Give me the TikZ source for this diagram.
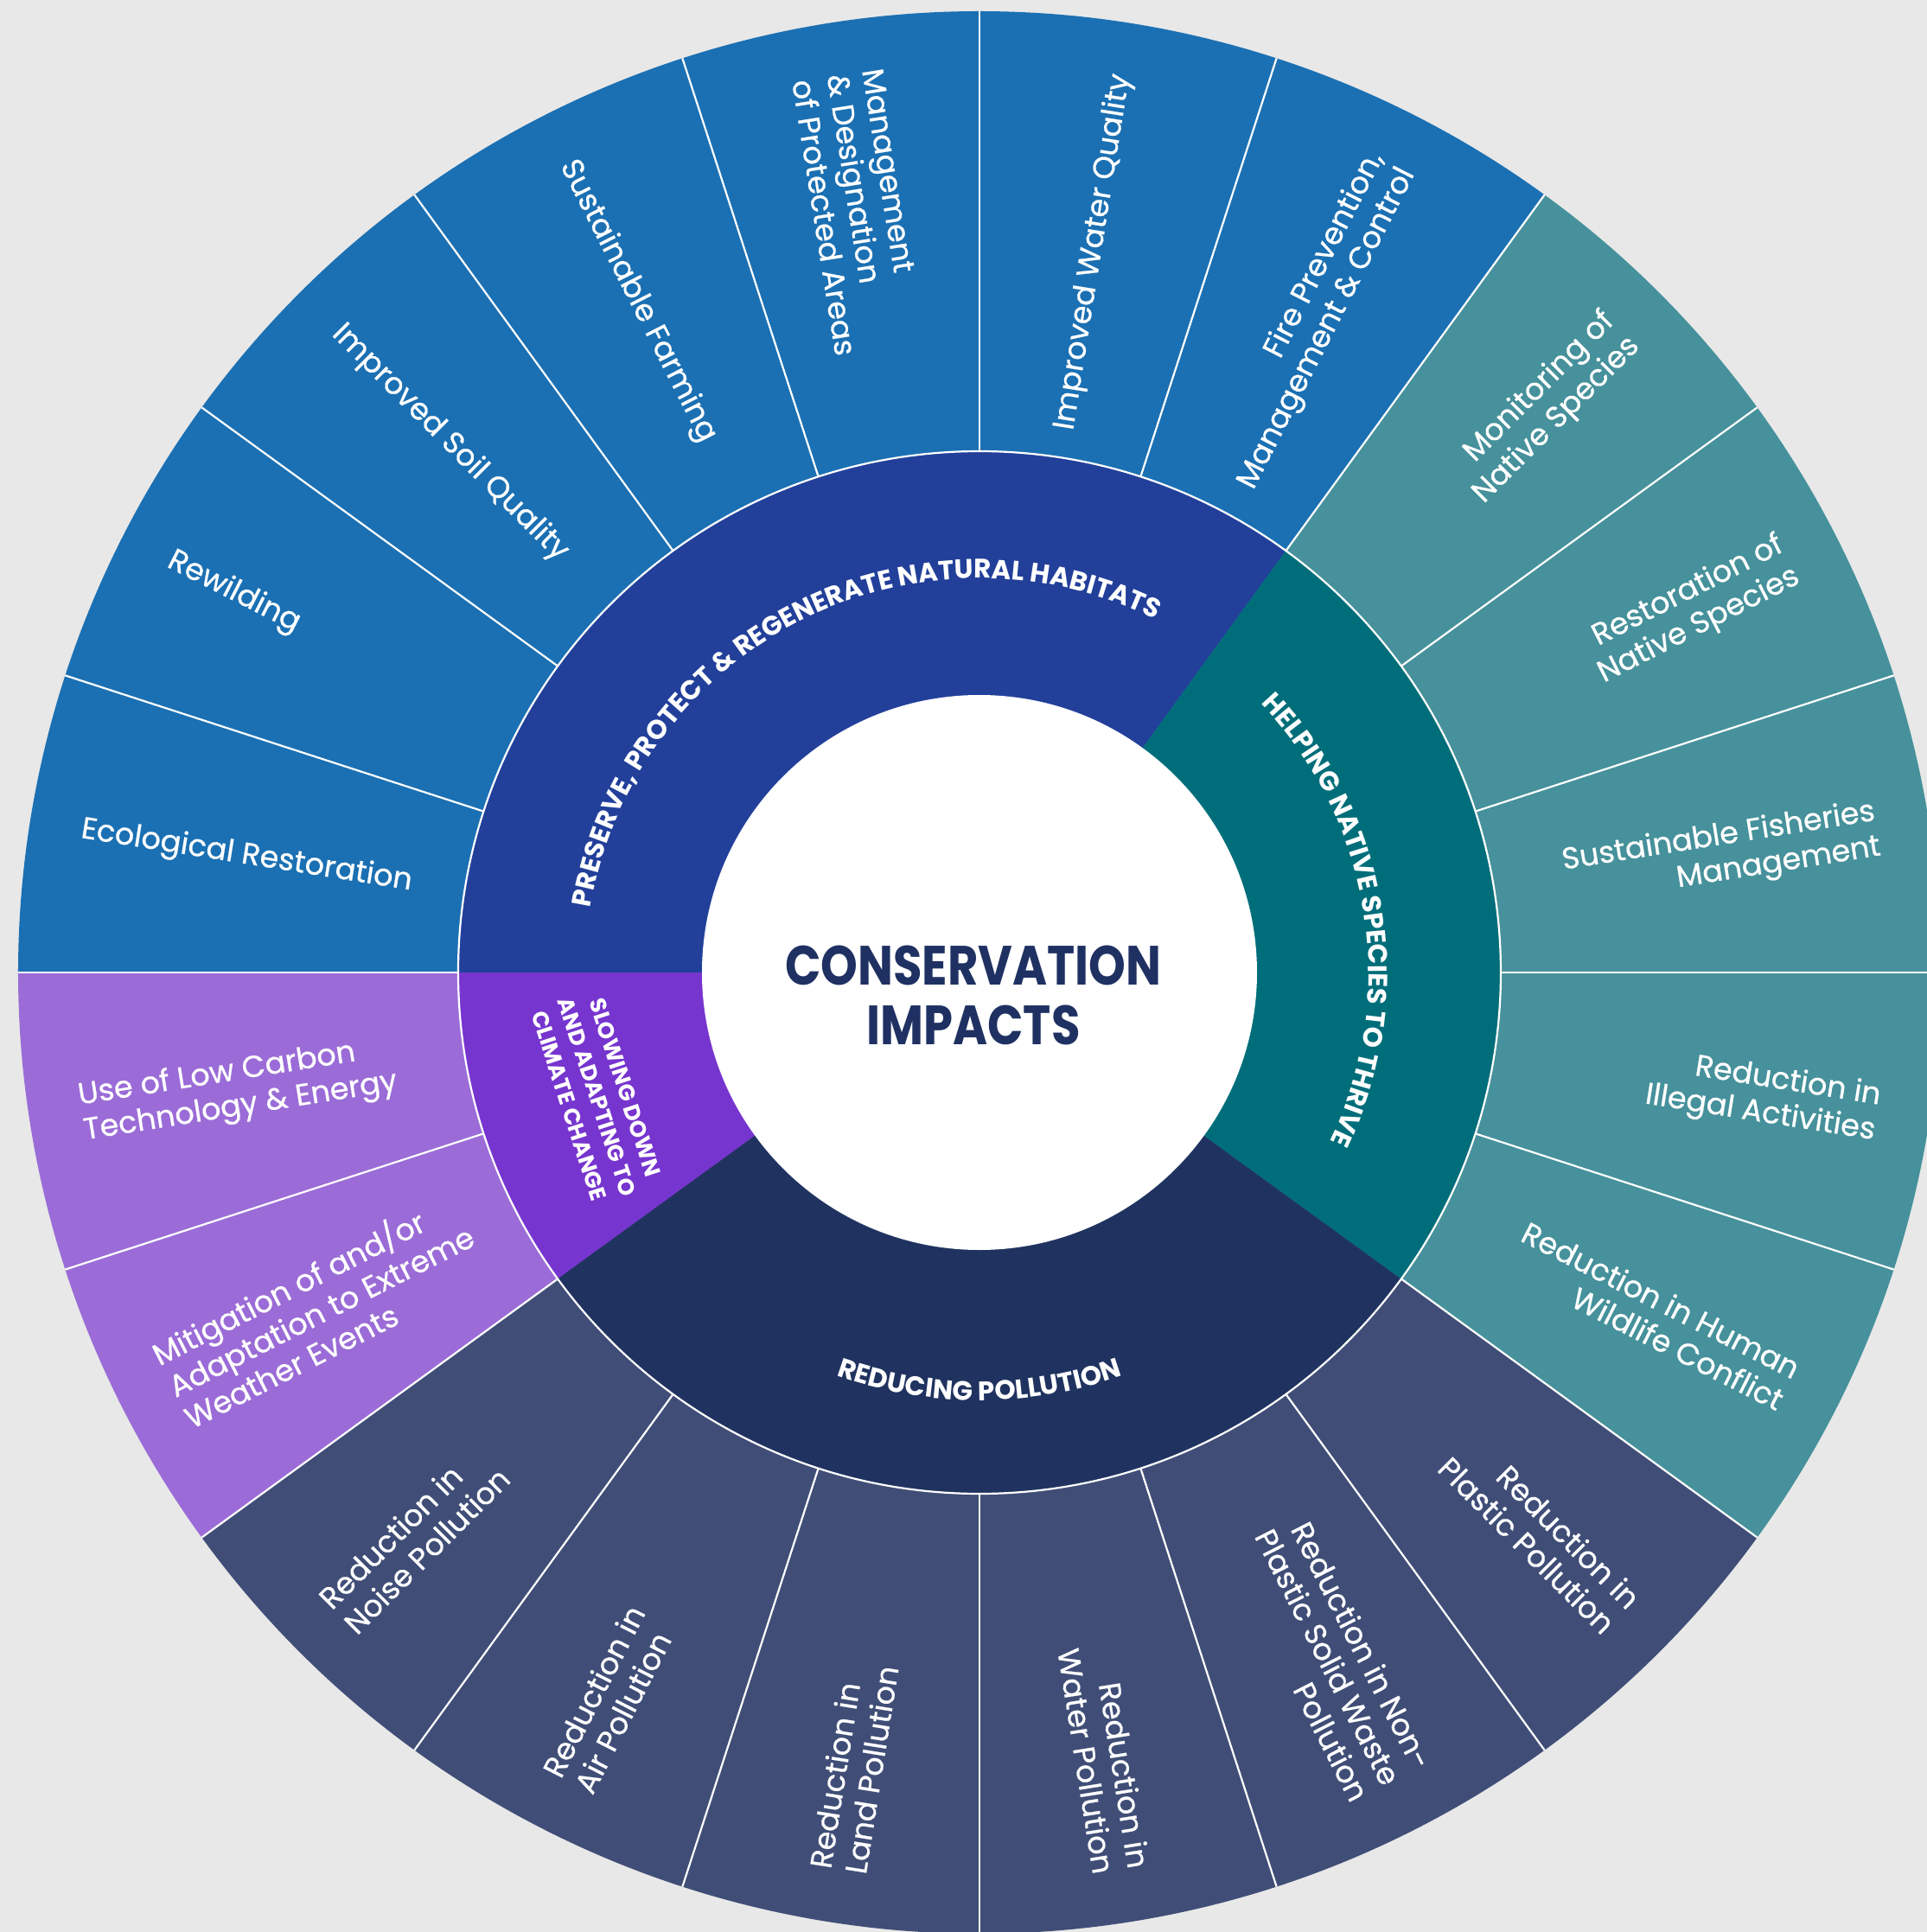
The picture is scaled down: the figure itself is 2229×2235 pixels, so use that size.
\documentclass[tikz,border=0pt]{standalone}
\usepackage{fontspec}
\setmainfont{Poppins}
\newfontfamily\poplab{Poppins}[FakeBold=0.6]
\usetikzlibrary{decorations.text}
\definecolor{bg}{HTML}{E8E8E8}
\definecolor{oblue}{HTML}{1B70B3}
\definecolor{iblue}{HTML}{22409A}
\definecolor{oteal}{HTML}{46919B}
\definecolor{iteal}{HTML}{006E7A}
\definecolor{oslate}{HTML}{404E77}
\definecolor{inavy}{HTML}{203360}
\definecolor{opurple}{HTML}{9B6CD7}
\definecolor{ipurple}{HTML}{7735CF}
\definecolor{ctext}{HTML}{1F3162}
\newcommand\olabfont{\poplab\fontsize{35}{41}\selectfont}
\newcommand\arcfnt{\fontsize{31}{34}\selectfont\bfseries}
\newcommand\ctrfnt{\fontsize{64}{69}\selectfont\bfseries}
\newcommand\slowfnt{\fontsize{26}{34}\selectfont\bfseries}
\tikzset{
  olab/.style={text=white, font=\olabfont, inner sep=0pt},
  rlab/.style={olab, align=right, anchor=east},
  llab/.style={olab, align=left, anchor=west},
  sep/.style={draw=white, line width=2.2pt},
  arctext/.style={decorate, decoration={text along path, text align=center, text color=white, text={|\arcfnt|#1}}}
}
\begin{document}
\begin{tikzpicture}
\useasboundingbox (-1133pt,-1110pt) rectangle (1096pt,1125pt);
\clip (-1133pt,-1110pt) rectangle (1096pt,1125pt);
\fill[bg] (-1133pt,-1110pt) rectangle (1096pt,1125pt);
% outer ring
\foreach \a/\c in {0/oteal,18/oteal,36/oteal,54/oblue,72/oblue,90/oblue,108/oblue,126/oblue,144/oblue,162/oblue,180/opurple,198/opurple,216/oslate,234/oslate,252/oslate,270/oslate,288/oslate,306/oslate,324/oteal,342/oteal}
  \fill[\c] (0,0) -- (\a:1112pt) arc[start angle=\a, delta angle=18, radius=1112pt] -- cycle;
% inner ring
\fill[iblue] (0,0) -- (54:603pt) arc[start angle=54, end angle=180, radius=603pt] -- cycle;
\fill[ipurple] (0,0) -- (180:603pt) arc[start angle=180, end angle=216, radius=603pt] -- cycle;
\fill[inavy] (0,0) -- (216:603pt) arc[start angle=216, end angle=324, radius=603pt] -- cycle;
\fill[iteal] (0,0) -- (-36:603pt) arc[start angle=-36, end angle=54, radius=603pt] -- cycle;
% separators
\foreach \a in {0,18,...,342}
  \draw[sep] (\a:603pt) -- (\a:1112pt);
\draw[sep] (0,0) circle[radius=603pt];
% core
\node[circle, fill=white, minimum size=642pt, inner sep=0pt] (core) at (0,0) {};
\node[text=ctext, font=\ctrfnt, align=center, xscale=0.85, transform shape] (title) at (-7pt,-26pt) {CONSERVATION\\IMPACTS};
% inner arc labels
\path[arctext={PRESERVE, PROTECT {\&} REGENERATE NATURAL HABITATS}] (180:456pt) arc[start angle=180, end angle=54, radius=456pt];
\path[arctext={HELPING NATIVE SPECIES TO THRIVE}] (54:450pt) arc[start angle=54, end angle=-36, radius=450pt];
\path[arctext={REDUCING POLLUTION}] (216:495pt) arc[start angle=216, end angle=324, radius=495pt];
\node[text=white, font=\slowfnt, align=center, rotate=-72, inner sep=0pt] (slow) at (198:465pt) {SLOWING DOWN\\AND ADAPTING TO\\CLIMATE CHANGE};
% outer labels
\node[rlab, rotate=9] (o1) at (9:1052pt) {Sustainable Fisheries\\Management};
\node[rlab, rotate=27] (o2) at (27:1052pt) {Restoration of\\Native Species};
\node[rlab, rotate=45] (o3) at (45:1052pt) {Monitoring of\\Native Species};
\node[rlab, rotate=63] (o4) at (63:1052pt) {Fire Prevention,\\Management \& Control};
\node[rlab, rotate=81] (o5) at (81:1052pt) {Improved Water Quality};
\node[llab, rotate=-81] (o6) at (99:1052pt) {Management\\\& Designation\\of Protected Areas};
\node[llab, rotate=-63] (o7) at (117:1052pt) {Sustainable Farming};
\node[llab, rotate=-45] (o8) at (135:1052pt) {Improved Soil Quality};
\node[llab, rotate=-27] (o9) at (153:1052pt) {Rewilding};
\node[llab, rotate=-9] (o10) at (171:1052pt) {Ecological Restoration};
\node[llab, rotate=9] (o11) at (189:1052pt) {Use of Low Carbon\\Technology \& Energy};
\node[llab, rotate=27] (o12) at (207:1052pt) {Mitigation of and/or\\Adaptation to Extreme\\Weather Events};
\node[llab, rotate=45] (o13) at (225:1052pt) {Reduction in\\Noise Pollution};
\node[llab, rotate=63] (o14) at (243:1052pt) {Reduction in\\Air Pollution};
\node[llab, rotate=81] (o15) at (261:1052pt) {Reduction in\\Land Pollution};
\node[rlab, rotate=-81] (o16) at (279:1052pt) {Reduction in\\Water Pollution};
\node[rlab, rotate=-63] (o17) at (297:1052pt) {Reduction in Non-\\Plastic Solid Waste\\Pollution};
\node[rlab, rotate=-45] (o18) at (315:1052pt) {Reduction in\\Plastic Pollution};
\node[rlab, rotate=-27] (o19) at (333:1052pt) {Reduction in Human\\Wildlife Conflict};
\node[rlab, rotate=-9] (o20) at (351:1052pt) {Reduction in\\Illegal Activities};
\end{tikzpicture}
\end{document}
